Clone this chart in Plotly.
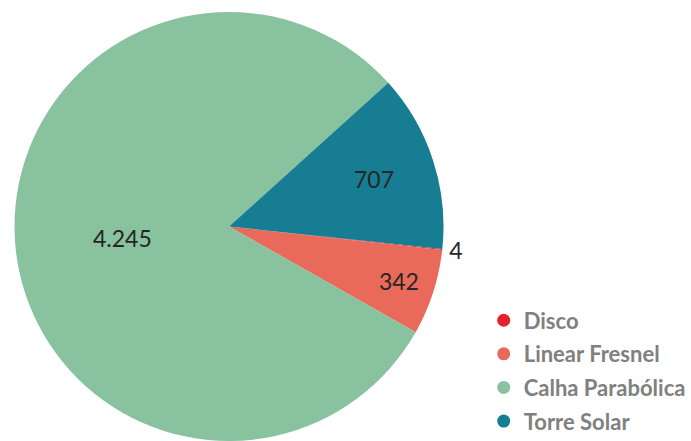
import plotly.graph_objects as go

labels = ["Disco", "Linear Fresnel", "Calha Parabólica", "Torre Solar"]
values = [4, 342, 4245, 707]
colors = ["#e3222e", "#e96a5b", "#89c29f", "#177d92"]
text_pos = ["outside", "inside", "inside", "inside"]

fig = go.Figure()
fig.add_trace(go.Pie(
    labels=labels, values=values, sort=False, direction="clockwise", rotation=96,
    marker=dict(colors=colors, line=dict(width=0)),
    texttemplate="%{value:,.0f}", textposition=text_pos,
    insidetextorientation="horizontal",
    textfont=dict(family="Lato", size=23, color="#262626"),
    showlegend=False, hoverinfo="label+value",
    domain=dict(x=[0, 458 / 691], y=[0, 1]),
))
for lab, col in zip(labels, colors):
    fig.add_trace(go.Scatter(
        x=[None], y=[None], mode="markers", name=lab, legendgroup=lab,
        marker=dict(symbol="circle", size=13, color=col),
    ))

fig.update_layout(
    width=691, height=441, separators=",.",
    margin=dict(l=0, r=0, t=12, b=0, autoexpand=False),
    paper_bgcolor="white", plot_bgcolor="white",
    xaxis=dict(visible=False), yaxis=dict(visible=False),
    legend=dict(x=0.70, y=0.33, xanchor="left", yanchor="top",
                traceorder="grouped", tracegroupgap=2, itemwidth=30,
                font=dict(family="Lato", size=22, color="#808080", weight="bold")),
)
fig.write_html("out.html")
